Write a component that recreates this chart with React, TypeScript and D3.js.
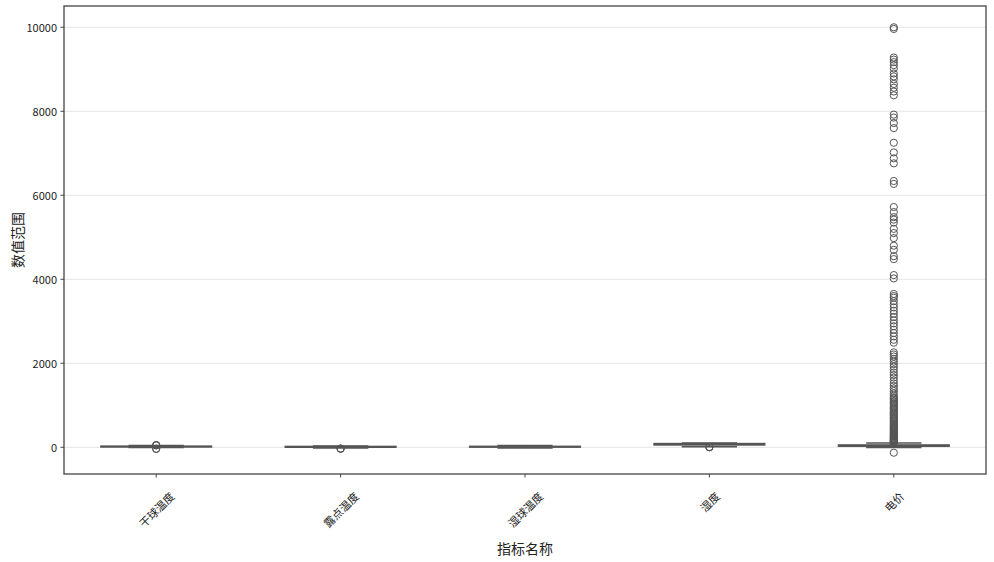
import React from "react";
import * as d3 from "d3";

// ---- data ----
const categories = ["干球温度", "露点温度", "湿球温度", "湿度", "电价"];
const whiskerLow = [-5, -20, -15, 15, -5];
const q1 = [8, 0, 5, 55, 25];
const median = [16, 10, 13, 72, 38];
const q3 = [24, 20, 22, 88, 55];
const whiskerHigh = [40, 30, 40, 100, 100];

const outliersDryBulb = [-40, -35, 45, 50, 52];
const outliersDewPoint = [-30, -33, -35];
const outliersWetBulb: number[] = [];
const outliersHumidity = [5, 2, 0];
const outliersPrice = [
  10000, 9960,
  9280, 9230, 9170, 9100, 9020, 8900, 8830, 8760, 8650, 8560, 8470, 8380,
  7920, 7850, 7720, 7600,
  7250,
  7020, 6880, 6760,
  6340, 6270,
  5720, 5600, 5480, 5420, 5350, 5200, 5100, 4980,
  4800, 4700, 4550, 4480,
  4100, 4020,
  3650, 3600, 3560, 3480, 3400, 3330, 3250, 3180, 3100, 3020, 2950, 2880, 2800, 2720, 2640, 2560, 2490,
  2260, 2210, 2160, 2100, 2040, 1980, 1920, 1850, 1780, 1720, 1660, 1590, 1520, 1460, 1400, 1340, 1280, 1230,
  1190, 1160, 1130, 1100, 1070, 1040, 1010, 980, 950, 920, 890, 860, 830, 800, 775, 750, 720, 695, 670, 645,
  620, 595, 570, 545, 520, 500, 480, 460, 440, 420, 400, 380, 360, 340, 320, 300, 285, 270, 255, 240, 225,
  210, 195, 180, 168, 156, 145, 134, 124, 115, 108,
  -130,
];
const outliers = [outliersDryBulb, outliersDewPoint, outliersWetBulb, outliersHumidity, outliersPrice];

const yTicks = [0, 2000, 4000, 6000, 8000, 10000];
const xTitle = "指标名称";
const yTitle = "数值范围";

// ---- layout ----
const W = 994;
const H = 562;
const L = 64, R = 986, T = 6, B = 474;
const FONT = "'Noto Sans CJK SC', 'Noto Sans', sans-serif";
const LINE = "#555555";

export default function App() {
  const all: number[] = [];
  categories.forEach((_, i) => {
    all.push(whiskerLow[i], whiskerHigh[i], ...outliers[i]);
  });
  const [mn, mx] = d3.extent(all) as [number, number];
  const pad = (mx - mn) * 0.05;
  const y = d3.scaleLinear().domain([mn - pad, mx + pad]).range([B, T]);
  const x = d3.scaleBand<string>().domain(categories).range([L, R]).padding(0);
  const bw = x.bandwidth();
  const boxW = bw * 0.6;
  const capW = bw * 0.3;

  return (
    <svg width={W} height={H} style={{ position: "absolute", left: 0, top: 0, background: "#fff" }}>
      {/* grid */}
      {yTicks.map((t) => (
        <line key={"g" + t} x1={L} x2={R} y1={y(t)} y2={y(t)} stroke="#e3e3e3" strokeWidth={1} />
      ))}

      {/* boxes */}
      {categories.map((c, i) => {
        const cx = x(c)! + bw / 2;
        return (
          <g key={c}>
            <line x1={cx} x2={cx} y1={y(whiskerLow[i])} y2={y(q1[i])} stroke={LINE} strokeWidth={1.5} />
            <line x1={cx} x2={cx} y1={y(q3[i])} y2={y(whiskerHigh[i])} stroke={LINE} strokeWidth={1.5} />
            <line x1={cx - capW / 2} x2={cx + capW / 2} y1={y(whiskerLow[i])} y2={y(whiskerLow[i])} stroke={LINE} strokeWidth={1.5} />
            <line x1={cx - capW / 2} x2={cx + capW / 2} y1={y(whiskerHigh[i])} y2={y(whiskerHigh[i])} stroke={LINE} strokeWidth={1.5} />
            <rect
              x={cx - boxW / 2}
              y={y(q3[i])}
              width={boxW}
              height={Math.max(0.1, y(q1[i]) - y(q3[i]))}
              fill="#808080"
              stroke={LINE}
              strokeWidth={1.5}
            />
            <line x1={cx - boxW / 2} x2={cx + boxW / 2} y1={y(median[i])} y2={y(median[i])} stroke={LINE} strokeWidth={1.5} />
            {outliers[i].map((v, j) => (
              <circle key={j} cx={cx} cy={y(v)} r={3.6} fill="none" stroke={LINE} strokeWidth={1} />
            ))}
          </g>
        );
      })}

      {/* frame */}
      <rect x={L} y={T} width={R - L} height={B - T} fill="none" stroke="#444" strokeWidth={1.3} />

      {/* y axis ticks */}
      {yTicks.map((t) => (
        <g key={"y" + t}>
          <line x1={L - 3.5} x2={L} y1={y(t)} y2={y(t)} stroke="#444" strokeWidth={1} />
          <text x={L - 7} y={y(t)} textAnchor="end" dominantBaseline="central" fontFamily={FONT} fontSize={11} fill="#222">
            {t}
          </text>
        </g>
      ))}

      {/* x axis ticks */}
      {categories.map((c) => {
        const cx = x(c)! + bw / 2;
        const fs = 11;
        const w = c.length * fs;
        const h = fs * 1.2;
        const half = (w + h) / (2 * Math.SQRT2);
        const cy = 489 + half;
        return (
          <g key={"x" + c}>
            <line x1={cx} x2={cx} y1={B} y2={B + 3.5} stroke="#444" strokeWidth={1} />
            <text
              x={cx}
              y={cy}
              textAnchor="middle"
              dominantBaseline="central"
              fontFamily={FONT}
              fontSize={fs}
              fill="#222"
              transform={`rotate(-45, ${cx}, ${cy})`}
            >
              {c}
            </text>
          </g>
        );
      })}

      {/* axis titles */}
      <text x={(L + R) / 2} y={554} textAnchor="middle" fontFamily={FONT} fontSize={14} fill="#222">
        {xTitle}
      </text>
      <text
        x={17}
        y={(T + B) / 2}
        textAnchor="middle"
        dominantBaseline="central"
        fontFamily={FONT}
        fontSize={14}
        fill="#222"
        transform={`rotate(-90, 17, ${(T + B) / 2})`}
      >
        {yTitle}
      </text>
    </svg>
  );
}
